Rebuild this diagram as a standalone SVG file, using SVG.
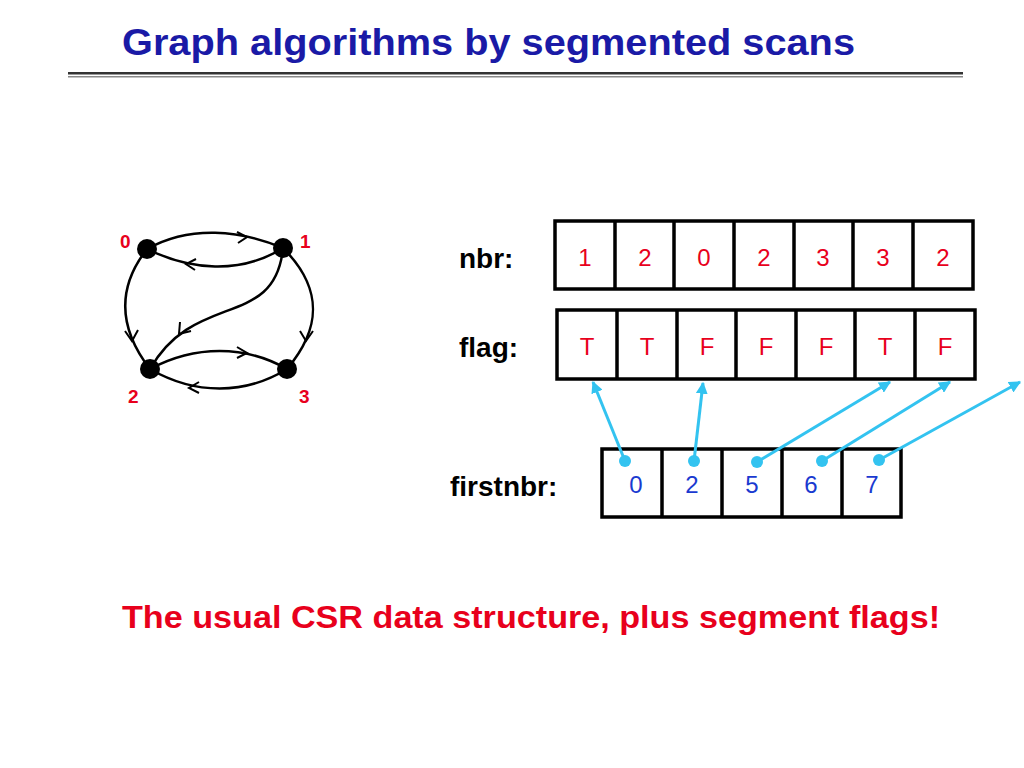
<svg xmlns="http://www.w3.org/2000/svg" width="1024" height="768" viewBox="0 0 1024 768">
<style>
.t{font-family:"Liberation Sans",Arial,sans-serif}
.cell{fill:#fff;stroke:#000;stroke-width:3.5}
.e{fill:none;stroke:#000;stroke-width:2.5}
.ch{fill:none;stroke:#000;stroke-width:2}
.n{fill:#000}
.nl{font-family:"Liberation Sans",Arial,sans-serif;font-weight:bold;font-size:19px;fill:#e8001c}
.lab{font-family:"Liberation Sans",Arial,sans-serif;font-weight:bold;font-size:28px;fill:#000}
.cv{font-family:"Liberation Sans",Arial,sans-serif;font-size:24px;fill:#e8001c;text-anchor:middle}
.bv{font-family:"Liberation Sans",Arial,sans-serif;font-size:24px;fill:#1a3ad0;text-anchor:middle}
.ar{stroke:#33c3f0;stroke-width:3;fill:none}
</style>
<defs>
<marker id="ah" viewBox="0 0 10 10" refX="9" refY="5" markerWidth="4" markerHeight="4" orient="auto"><path d="M0,0L10,5L0,10z" fill="#33c3f0"/></marker>
</defs>
<text class="t" x="122" y="55" font-size="36" font-weight="bold" fill="#1a1aa6" textLength="733" lengthAdjust="spacingAndGlyphs">Graph algorithms by segmented scans</text>
<rect x="68" y="72" width="895" height="2.5" fill="#333"/>
<rect x="68" y="76" width="895" height="1.5" fill="#888"/>
<g id="graph-edges">
<path class="e" d="M147,249 C190,225 240,230 283,248"/>
<path class="ch" d="M237,232 L247,237 L238,243"/>
<path class="e" d="M283,248 C240,275 190,270 147,249"/>
<path class="ch" d="M196,259 L186,264 L195,270"/>
<path class="e" d="M147,249 C115,290 120,330 150,369"/>
<path class="ch" d="M125,331 L132,341 L138,330"/>
<path class="e" d="M283,248 C325,290 320,330 287,369"/>
<path class="ch" d="M300,331 L306,341 L313,331"/>
<path class="e" d="M283,248 C275,330 195,290 150,369"/>
<path class="ch" d="M180,322 L179,334 L191,331"/>
<path class="e" d="M150,369 C195,345 245,345 287,369"/>
<path class="ch" d="M237,347 L247,353 L237,358"/>
<path class="e" d="M287,369 C245,395 195,395 150,369"/>
<path class="ch" d="M199,382 L189,388 L199,393"/>
</g>
<g id="node-0"><circle class="n" cx="147" cy="249" r="10"/><text class="nl" x="120" y="248">0</text></g>
<g id="node-1"><circle class="n" cx="283" cy="248" r="10"/><text class="nl" x="300" y="248">1</text></g>
<g id="node-2"><circle class="n" cx="150" cy="369" r="10"/><text class="nl" x="128" y="403">2</text></g>
<g id="node-3"><circle class="n" cx="287" cy="369" r="10"/><text class="nl" x="299" y="403">3</text></g>
<g id="nbr">
<text class="lab" x="459" y="268">nbr:</text>
<rect class="cell" x="555" y="221" width="418" height="68"/>
<path stroke="#000" stroke-width="3.5" d="M615,221V289M674,221V289M734,221V289M794,221V289M853,221V289M913,221V289"/>
<text class="cv" x="585" y="266">1</text><text class="cv" x="645" y="266">2</text><text class="cv" x="704" y="266">0</text><text class="cv" x="764" y="266">2</text><text class="cv" x="823" y="266">3</text><text class="cv" x="883" y="266">3</text><text class="cv" x="943" y="266">2</text>
</g>
<g id="flag">
<text class="lab" x="459" y="357">flag:</text>
<rect class="cell" x="557" y="310" width="418" height="69"/>
<path stroke="#000" stroke-width="3.5" d="M617,310V379M677,310V379M736,310V379M796,310V379M855,310V379M915,310V379"/>
<text class="cv" x="587" y="355">T</text><text class="cv" x="647" y="355">T</text><text class="cv" x="707" y="355">F</text><text class="cv" x="766" y="355">F</text><text class="cv" x="826" y="355">F</text><text class="cv" x="885" y="355">T</text><text class="cv" x="945" y="355">F</text>
</g>
<g id="firstnbr">
<text class="lab" x="450" y="496">firstnbr:</text>
<rect class="cell" x="602" y="449" width="299" height="68"/>
<path stroke="#000" stroke-width="3.5" d="M662,449V517M722,449V517M782,449V517M842,449V517"/>
<text class="bv" x="636" y="493">0</text><text class="bv" x="692" y="493">2</text><text class="bv" x="752" y="493">5</text><text class="bv" x="811" y="493">6</text><text class="bv" x="872" y="493">7</text>
</g>
<g id="connectors">
<line class="ar" x1="625" y1="461" x2="593" y2="382" marker-end="url(#ah)"/>
<line class="ar" x1="694" y1="461" x2="703" y2="383" marker-end="url(#ah)"/>
<line class="ar" x1="757" y1="462" x2="890" y2="382" marker-end="url(#ah)"/>
<line class="ar" x1="822" y1="461" x2="950" y2="382" marker-end="url(#ah)"/>
<line class="ar" x1="879" y1="460" x2="1020" y2="382" marker-end="url(#ah)"/>
<circle cx="625" cy="461" r="6" fill="#33c3f0"/><circle cx="694" cy="461" r="6" fill="#33c3f0"/><circle cx="757" cy="462" r="6" fill="#33c3f0"/><circle cx="822" cy="461" r="6" fill="#33c3f0"/><circle cx="879" cy="460" r="6" fill="#33c3f0"/>
</g>
<text class="t" x="122" y="628" font-size="32" font-weight="bold" fill="#e8001c" textLength="818" lengthAdjust="spacingAndGlyphs">The usual CSR data structure, plus segment flags!</text>
</svg>
